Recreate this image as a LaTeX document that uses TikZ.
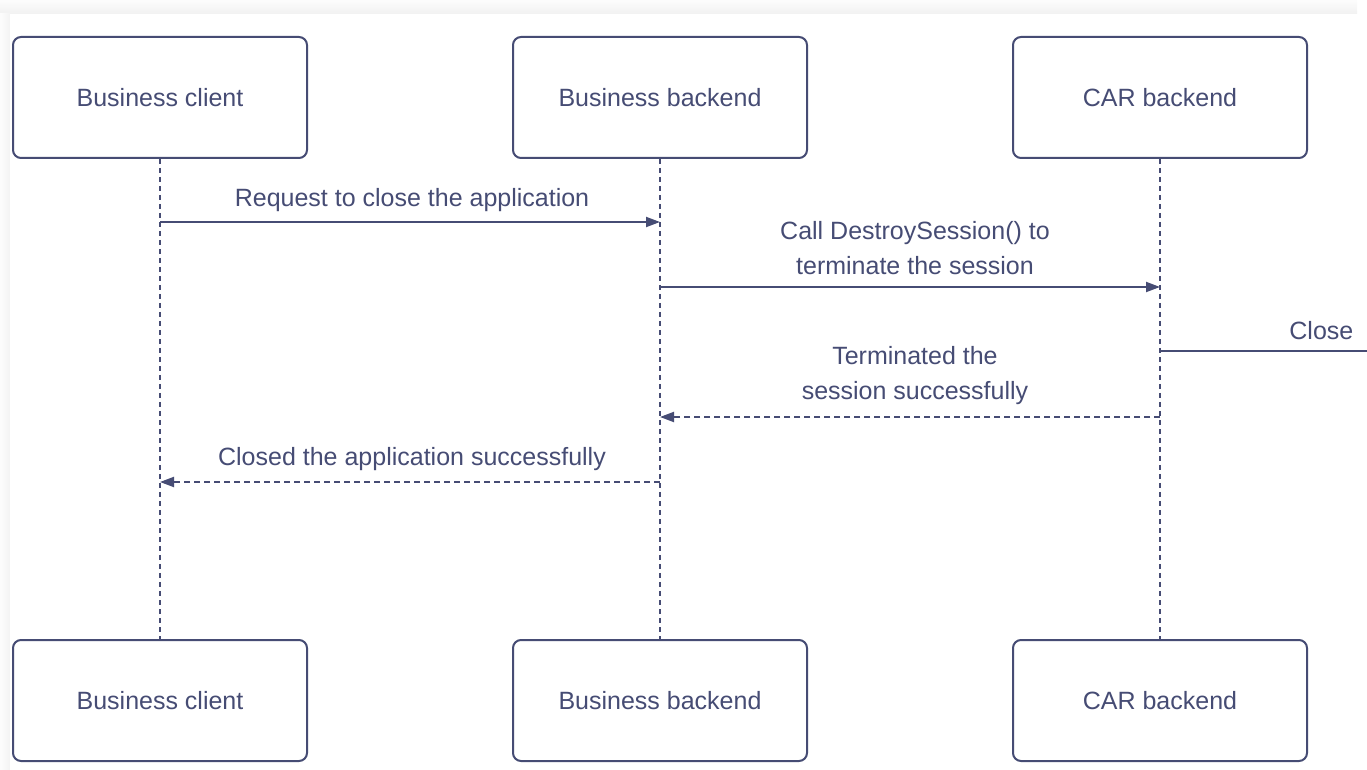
\documentclass[tikz,border=0pt]{standalone}
\usepackage{fontspec}
\setmainfont{Liberation Sans}
\usetikzlibrary{arrows.meta}
\definecolor{ink}{HTML}{464C74}
\begin{document}
\begin{tikzpicture}[x=0.5pt,y=-0.5pt,
  actor/.style={draw=ink,line width=1pt,rounded corners=4pt,minimum width=147pt,
    minimum height=60.5pt,fill=white,text=ink,font=\fontsize{12.5pt}{15pt}\selectfont},
  life/.style={draw=ink,line width=0.65pt,dash pattern=on 2.5pt off 2pt},
  msg/.style={draw=ink,line width=1pt,-{Triangle[length=7pt,width=5pt]}},
  reply/.style={msg,dash pattern=on 3pt off 2pt},
  lbl/.style={text=ink,font=\fontsize{12.5pt}{17.5pt}\selectfont,align=center,inner sep=0pt}]
\useasboundingbox (0,0) rectangle (1367,770);
% soft shadow around the sheet
\shade[top color=gray!2,bottom color=gray!11] (0,0) rectangle (1357,14);
\shade[left color=gray!2,right color=gray!9] (0,14) rectangle (10,770);
\fill[white] (10,14) rectangle (1367,770);

% participants, top and bottom
\node[actor] (ct) at (160,97.5) {Business client};
\node[actor] (bt) at (660,97.5) {Business backend};
\node[actor] (at) at (1160,97.5) {CAR backend};
\node[actor] (cb) at (160,700.5) {Business client};
\node[actor] (bb) at (660,700.5) {Business backend};
\node[actor] (ab) at (1160,700.5) {CAR backend};

% lifelines
\draw[life] (ct.south) -- (cb.north);
\draw[life] (bt.south) -- (bb.north);
\draw[life] (at.south) -- (ab.north);

% message anchors on the lifelines
\coordinate (c1) at (160,222);
\coordinate (b1) at (660,222);
\coordinate (b2) at (660,287);
\coordinate (a2) at (1160,287);
\coordinate (a3) at (1160,351);
\coordinate (x3) at (1367,351);
\coordinate (a4) at (1160,417);
\coordinate (b4) at (660,417);
\coordinate (b5) at (660,482);
\coordinate (c5) at (160,482);

% messages
\draw[msg] (c1) -- (b1);
\node[lbl] (l1) at (412,200) {Request to close the application};
\draw[msg] (b2) -- (a2);
\node[lbl] (l2) at (915,248) {Call DestroySession() to\\terminate the session};
\draw[draw=ink,line width=1pt] (a3) -- (x3);
\node[lbl,anchor=west] (l3) at (1289,331) {Close};
\draw[reply] (a4) -- (b4);
\node[lbl] (l4) at (915,376) {Terminated the\\session successfully};
\draw[reply] (b5) -- (c5);
\node[lbl] (l5) at (412,459) {Closed the application successfully};
\end{tikzpicture}
\end{document}
